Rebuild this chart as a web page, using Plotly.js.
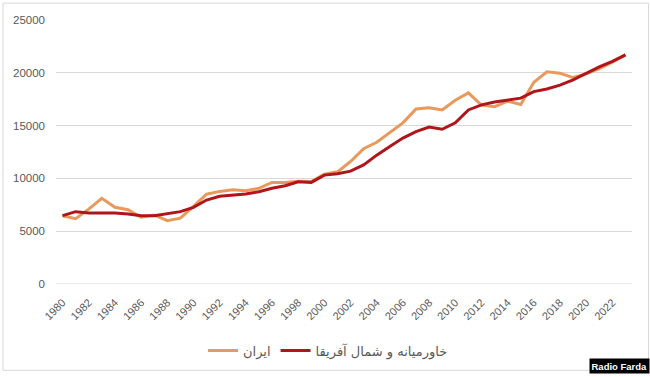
<!DOCTYPE html>
<html>
<head>
<meta charset="utf-8">
<script src="https://cdn.plot.ly/plotly-3.0.1.min.js"></script>
<style>html,body{margin:0;padding:0;background:#fff;}#chart{width:650px;height:377px;}</style>
</head>
<body>
<div id="chart"></div>
<script>
const years = ["1980","1981","1982","1983","1984","1985","1986","1987","1988","1989",
  "1990","1991","1992","1993","1994","1995","1996","1997","1998","1999",
  "2000","2001","2002","2003","2004","2005","2006","2007","2008","2009",
  "2010","2011","2012","2013","2014","2015","2016","2017","2018","2019",
  "2020","2021","2022","2023"];
const iran = [6470,6180,7090,8110,7260,7040,6320,6540,6000,6230,
  7350,8500,8770,8930,8830,9060,9620,9620,9720,9700,
  10400,10620,11600,12810,13420,14340,15260,16580,16700,16480,
  17400,18100,16950,16790,17310,17000,19100,20090,19960,19550,
  19900,20400,21000,21700];
const mena = [6470,6850,6730,6730,6730,6630,6470,6470,6630,6850,
  7260,7950,8300,8420,8520,8740,9060,9300,9680,9620,
  10310,10450,10690,11280,12200,13030,13820,14430,14860,14650,
  15260,16480,16960,17240,17390,17600,18220,18460,18830,19330,
  19940,20560,21090,21690];
const tickYears = years.filter((y,i)=>i%2===0);
const nameIran = "ایران";
const nameMena = "خاورمیانه و شمال آفریقا";

const traces = [
  {x: years, y: iran, name: nameIran, type: "scatter", mode: "lines",
   line: {color: "#E8995B", width: 3}},
  {x: years, y: mena, name: nameMena, type: "scatter", mode: "lines",
   line: {color: "#B0151C", width: 3}}
];
const L = 56, R = 632, T = 20, B = 286;
const px = p => (p - L) / (R - L);
const py = p => (B - p) / (B - T);
const layout = {
  width: 650, height: 377,
  margin: {l: L, r: 650 - R, t: T, b: 377 - B},
  paper_bgcolor: "#ffffff", plot_bgcolor: "#ffffff",
  font: {family: "Liberation Sans, Arial, sans-serif", color: "#595959", size: 11},
  showlegend: true,
  legend: {orientation: "h", x: px(328), xanchor: "center", y: py(353), yanchor: "middle",
    font: {family: "DejaVu Sans, sans-serif", size: 13, color: "#595959"},
    itemwidth: 30},
  xaxis: {type: "category", range: [-0.5, 43.5], tickmode: "array", tickvals: tickYears,
    ticktext: tickYears, tickangle: -45, showgrid: false, zeroline: false, showline: false,
    ticks: "", ticklabelstandoff: 9, tickfont: {size: 11, color: "#595959"}, fixedrange: true},
  yaxis: {range: [0, 25000], tickvals: [0,5000,10000,15000,20000,25000],
    ticktext: ["0","5000","10000","15000","20000","25000"],
    showgrid: true, gridcolor: "#D9D9D9", gridwidth: 1, zeroline: false, showline: false,
    ticks: "", ticklabelstandoff: 10, tickfont: {size: 11.5, color: "#595959"}, fixedrange: true},
  shapes: [
    {type: "rect", xref: "paper", yref: "paper", x0: px(3), x1: px(648.5), y0: py(373), y1: py(3),
     line: {color: "#D9D9D9", width: 1}, fillcolor: "rgba(0,0,0,0)", layer: "below"},
    {type: "line", xref: "paper", yref: "y", x0: 0, x1: 1, y0: 0, y1: 0,
     line: {color: "#D9D9D9", width: 1}, layer: "below"}
  ],
  annotations: [
    {text: "<b>Radio Farda</b>", xref: "paper", yref: "paper", x: px(650), y: py(377),
     xanchor: "right", yanchor: "bottom", showarrow: false, bgcolor: "#000000",
     font: {family: "Liberation Sans Narrow, Arial Narrow, Liberation Sans, sans-serif", size: 9.5, color: "#ffffff"},
     borderpad: 1.5}
  ]
};
Plotly.newPlot("chart", traces, layout, {displayModeBar: false, staticPlot: true});
</script>
</body>
</html>
